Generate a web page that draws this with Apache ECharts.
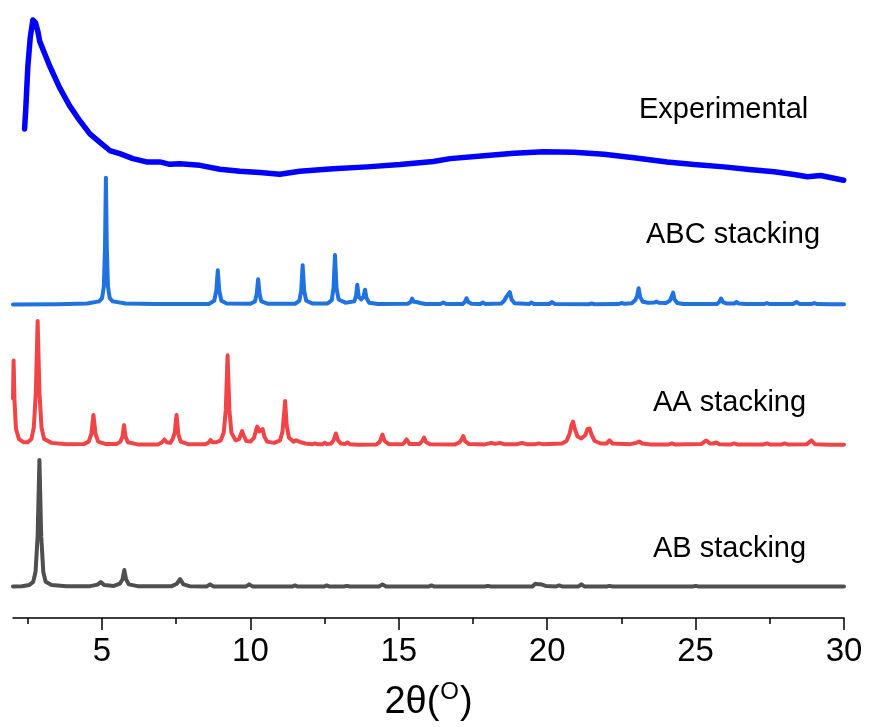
<!DOCTYPE html>
<html>
<head>
<meta charset="utf-8">
<script src="https://cdn.jsdelivr.net/npm/echarts@6/dist/echarts.min.js"></script>
<style>
html,body{margin:0;padding:0;background:#fff;}
#chart{width:871px;height:727px;}
</style>
</head>
<body>
<div id="chart"></div>
<script>
// ---- data (2θ in degrees, intensity in arbitrary units) ----
const seriesNames = ['Experimental', 'ABC stacking', 'AA stacking', 'AB stacking'];
const seriesColors = ['#0000ff', '#1f72e0', '#f04447', '#4f4f4f'];
const xTickValues = [5, 10, 15, 20, 25, 30];
const xMinorTickValues = [2.5, 7.5, 12.5, 17.5, 22.5, 27.5];
const offsets = { experimental: 330, abc: 247, aa: 136, ab: 24.5 };

const experimental = [
  [2.39,55.4],[2.43,71.0],[2.50,104.6],[2.58,127.3],[2.67,141.3],[2.76,139.0],[2.84,132.0],[2.90,124.4],
  [3.24,104.8],[3.57,88.0],[3.91,73.6],[4.25,61.9],[4.59,51.5],[4.92,45.0],[5.26,38.4],[5.60,35.9],
  [6.04,32.0],[6.50,29.4],[6.95,29.4],[7.28,27.5],[7.62,28.0],[8.30,26.7],[8.97,23.6],[9.65,22.0],
  [10.32,21.0],[10.99,19.7],[11.66,22.0],[12.79,24.1],[13.93,25.5],[15.04,27.3],[16.16,29.8],[16.73,32.0],
  [17.87,34.3],[18.88,36.2],[19.89,37.4],[20.90,37.0],[21.91,35.5],[22.92,32.7],[24.04,29.4],[24.95,27.3],
  [25.96,25.5],[26.80,23.4],[27.65,21.6],[28.32,19.5],[28.77,17.7],[29.21,18.7],[29.99,15.0]
];

const abcStacking = [
  [2.0,0],[3.5,0.3],[4.5,0.8],[4.9,2.5],[5.0,5],[5.06,14],[5.1,45],[5.13,100],[5.16,45],[5.2,14],[5.26,5],[5.36,2.5],[5.8,0.8],[6.8,0.4],
  [8.6,0.5],[8.78,3],[8.85,11],[8.9,27],[8.95,11],[9.02,3],[9.2,0.8],
  [10.0,0.6],[10.15,2.5],[10.21,8],[10.26,20],[10.31,8],[10.37,2.5],[10.6,0.6],
  [11.5,0.6],[11.65,3],[11.71,11],[11.76,31],[11.81,11],[11.88,3],[12.1,0.8],
  [12.6,0.8],[12.74,3.5],[12.8,13],[12.85,39],[12.9,13],[12.97,4],[13.2,1.5],
  [13.5,2.5],[13.56,7],[13.6,15.6],[13.65,6],[13.73,4],[13.81,6],[13.86,11.7],[13.91,5],[14.0,1.5],[14.3,0.5],
  [15.3,0.6],[15.4,2],[15.45,4.7],[15.5,2.2],[15.6,2],[15.65,3.5],[15.72,1.2],[15.9,0.4],
  [16.4,0.4],[16.5,1.6],[16.6,0.4],
  [17.15,0.5],[17.23,2.2],[17.28,5],[17.34,2],[17.45,0.6],
  [17.75,0.5],[17.83,1.6],[17.92,0.5],
  [18.45,0.8],[18.55,3],[18.62,6],[18.68,6],[18.74,9.8],[18.8,4],[18.9,1],
  [19.4,0.5],[19.47,1.6],[19.55,0.5],
  [20.08,0.5],[20.16,2],[20.25,0.5],
  [21.4,0.3],[21.5,0.8],[21.6,0.3],
  [22.4,0.4],[22.5,1.2],[22.6,0.6],[22.85,1],[22.97,3.5],[23.03,7],[23.08,12.9],[23.13,6],[23.22,2.2],[23.4,1.4],
  [23.6,1.6],[23.68,2.3],[23.76,1.4],[24.0,1.2],[24.13,3],[24.19,6],[24.24,9.4],[24.29,4],[24.38,1.2],[24.6,0.5],
  [25.72,0.5],[25.8,2.2],[25.86,4.7],[25.92,2],[26.05,0.8],[26.3,0.8],[26.37,2],[26.45,0.8],[26.7,0.4],
  [27.3,0.4],[27.4,1.2],[27.5,0.4],
  [28.3,0.5],[28.4,2],[28.5,0.5],
  [28.9,0.4],[29.0,1.2],[29.1,0.4],
  [29.5,0.3],[30,0.3]
];

const aaStacking = [
  [2.0,37],[2.02,67],[2.05,35],[2.1,13],[2.2,5],[2.35,2.5],[2.5,2.5],[2.62,5],[2.7,14],[2.77,42],[2.83,98],[2.89,42],[2.96,14],[3.05,5],[3.3,2],[3.8,1],
  [4.4,1.2],[4.55,3],[4.64,9],[4.71,24],[4.78,9],[4.87,3],[5.1,1.2],
  [5.5,1.2],[5.62,3],[5.69,7],[5.74,16],[5.79,7],[5.87,2.5],[6.2,0.8],
  [6.9,0.8],[7.02,2.5],[7.1,4.7],[7.18,2.5],[7.3,2],[7.38,5],[7.45,10],[7.51,24],[7.57,9],[7.65,3],[7.9,1],
  [8.5,1],[8.6,2.5],[8.66,4.3],[8.72,2.5],[8.85,2.5],[9.0,4],[9.1,10],[9.17,28],[9.23,71],[9.29,28],[9.36,10],[9.5,4],
  [9.62,5],[9.68,9],[9.72,11.3],[9.77,8],[9.86,3.5],[10.0,3],[10.12,6],[10.19,12],[10.23,14.8],[10.3,11],[10.36,11],[10.41,12.9],[10.47,7],[10.56,3],
  [10.8,2],[11.0,4],[11.08,11],[11.13,24],[11.17,35],[11.22,16],[11.3,6],[11.45,3],[11.54,4],[11.59,4.7],[11.66,2.8],[11.85,1.5],
  [12.1,1],[12.17,1.6],[12.25,1],[12.42,1],[12.5,2],[12.58,1],
  [12.72,1.5],[12.8,4],[12.88,9.4],[12.95,4],[13.05,1.5],[13.2,1.2],[13.27,2.3],[13.35,1],[13.6,0.6],
  [14.25,0.8],[14.36,3],[14.45,8.6],[14.52,3.5],[14.65,1.2],[14.9,1],
  [15.15,1.2],[15.26,4.7],[15.36,1.2],
  [15.7,1.2],[15.79,3.5],[15.85,6.2],[15.92,2.5],[16.05,1],
  [16.9,0.8],[17.05,2.5],[17.12,5],[17.17,7.4],[17.23,3.5],[17.35,1.2],
  [17.9,0.8],[18.12,2],[18.25,1.2],[18.4,2],[18.55,1],
  [19.0,1],[19.15,2],[19.3,1],[19.6,1],[19.71,1.6],[19.85,1],
  [20.5,1.5],[20.65,3.5],[20.75,9],[20.82,16],[20.87,18.8],[20.93,13],[21.02,7],[21.15,5.5],[21.28,8],[21.36,13],[21.43,13.3],[21.5,8],[21.6,3.5],[21.8,1.5],
  [22.0,1.5],[22.1,3.9],[22.2,1.5],
  [22.8,1],[23.0,2],[23.1,3.1],[23.2,1.5],[23.5,0.8],
  [24.1,0.8],[24.2,1.6],[24.3,0.8],
  [25.2,1.2],[25.36,3.9],[25.48,1.5],[25.6,1.5],[25.7,2.3],[25.8,1],
  [26.2,0.8],[26.3,1.6],[26.4,0.8],
  [27.3,0.8],[27.4,1.6],[27.5,0.8],
  [27.9,0.8],[28.0,1.6],[28.1,0.8],
  [28.75,1],[28.9,3.9],[29.02,1],
  [29.5,0.6],[30,0.6]
];

const abStacking = [
  [2.0,0.3],[2.3,0.6],[2.55,1.5],[2.68,4],[2.76,12],[2.83,40],[2.89,100],[2.95,40],[3.02,12],[3.1,4],[3.3,1.5],[3.8,0.6],
  [4.6,0.6],[4.85,1.8],[4.96,3.9],[5.07,1.5],[5.4,0.8],[5.6,2.5],[5.69,6],[5.75,13.3],[5.81,6],[5.9,2],[6.2,0.6],
  [7.35,0.6],[7.52,2.5],[7.63,6.2],[7.74,2],[7.95,0.6],
  [8.52,0.4],[8.64,2],[8.76,0.4],
  [9.85,0.4],[9.96,2],[10.07,0.4],
  [11.4,0.3],[11.5,1.2],[11.6,0.3],
  [12.47,0.3],[12.57,1.2],[12.67,0.3],
  [13.15,0.3],[13.25,0.8],[13.35,0.3],
  [14.33,0.4],[14.45,2],[14.57,0.4],
  [16.0,0.3],[16.1,1.2],[16.2,0.3],
  [17.9,0.3],[18.0,0.8],[18.1,0.3],
  [19.5,0.4],[19.6,2.5],[19.66,3.9],[19.73,2],[19.8,2],[19.86,2.7],[19.95,0.8],
  [20.3,0.4],[20.4,1.2],[20.5,0.4],
  [21.05,0.4],[21.15,2],[21.25,0.4],
  [22.0,0.3],[22.1,0.8],[22.2,0.3],
  [24.9,0.3],[25.0,0.8],[25.1,0.3],
  [30,0.3]
];

// ---- chart ----
const shift = (arr, off) => arr.map(p => [p[0], p[1] + off]);
const FONT = '"Liberation Sans", Arial, sans-serif';

const chart = echarts.init(document.getElementById('chart'), null, { renderer: 'canvas' });

function lineSeries(name, data, color, width, smooth) {
  return {
    name, type: 'line', data, showSymbol: false, symbol: 'none', clip: false,
    smooth: smooth || false, animation: false,
    lineStyle: { color, width, cap: 'round', join: 'round' }
  };
}

const labelPos = [
  { text: seriesNames[0], x: 639, y: 110 },
  { text: seriesNames[1], x: 646, y: 235 },
  { text: seriesNames[2], x: 653, y: 403 },
  { text: seriesNames[3], x: 653, y: 549 }
];

chart.setOption({
  backgroundColor: '#fff',
  animation: false,
  grid: { left: 13, right: 27, top: 0, bottom: 104, containLabel: false },
  xAxis: [
    {
      type: 'value', min: 2, max: 30,
      axisLine: { show: true, lineStyle: { color: '#000', width: 1.5 } },
      axisTick: { show: true, customValues: xTickValues, length: 12, lineStyle: { color: '#000', width: 1.5 } },
      axisLabel: { customValues: xTickValues, fontSize: 33, color: '#000', fontFamily: FONT, margin: 17 },
      splitLine: { show: false },
      name: '{a|2θ(}{s|O}{a|)}',
      nameLocation: 'middle',
      nameGap: 60,
      nameTextStyle: {
        rich: {
          a: { fontSize: 38, fontFamily: FONT, color: '#000', lineHeight: 44, verticalAlign: 'bottom' },
          s: { fontSize: 24, fontFamily: FONT, color: '#000', lineHeight: 24, verticalAlign: 'top', padding: [2, 1, 0, 1] }
        }
      }
    },
    {
      type: 'value', min: 2, max: 30, position: 'bottom',
      axisLine: { show: false },
      axisTick: { show: true, customValues: xMinorTickValues, length: 6, lineStyle: { color: '#000', width: 1.5 } },
      axisLabel: { show: false },
      splitLine: { show: false }
    }
  ],
  yAxis: { type: 'value', min: 0, max: 487, show: false, splitLine: { show: false } },
  series: [
    lineSeries(seriesNames[3], shift(abStacking, offsets.ab), seriesColors[3], 4),
    lineSeries(seriesNames[2], shift(aaStacking, offsets.aa), seriesColors[2], 4),
    lineSeries(seriesNames[1], shift(abcStacking, offsets.abc), seriesColors[1], 4),
    lineSeries(seriesNames[0], shift(experimental, offsets.experimental), seriesColors[0], 5.5, false)
  ],
  graphic: labelPos.map(l => ({
    type: 'text', x: l.x, y: l.y,
    style: { text: l.text, fontSize: 29, fontFamily: FONT, fill: '#000', verticalAlign: 'middle', textVerticalAlign: 'middle' }
  }))
});
</script>
</body>
</html>
